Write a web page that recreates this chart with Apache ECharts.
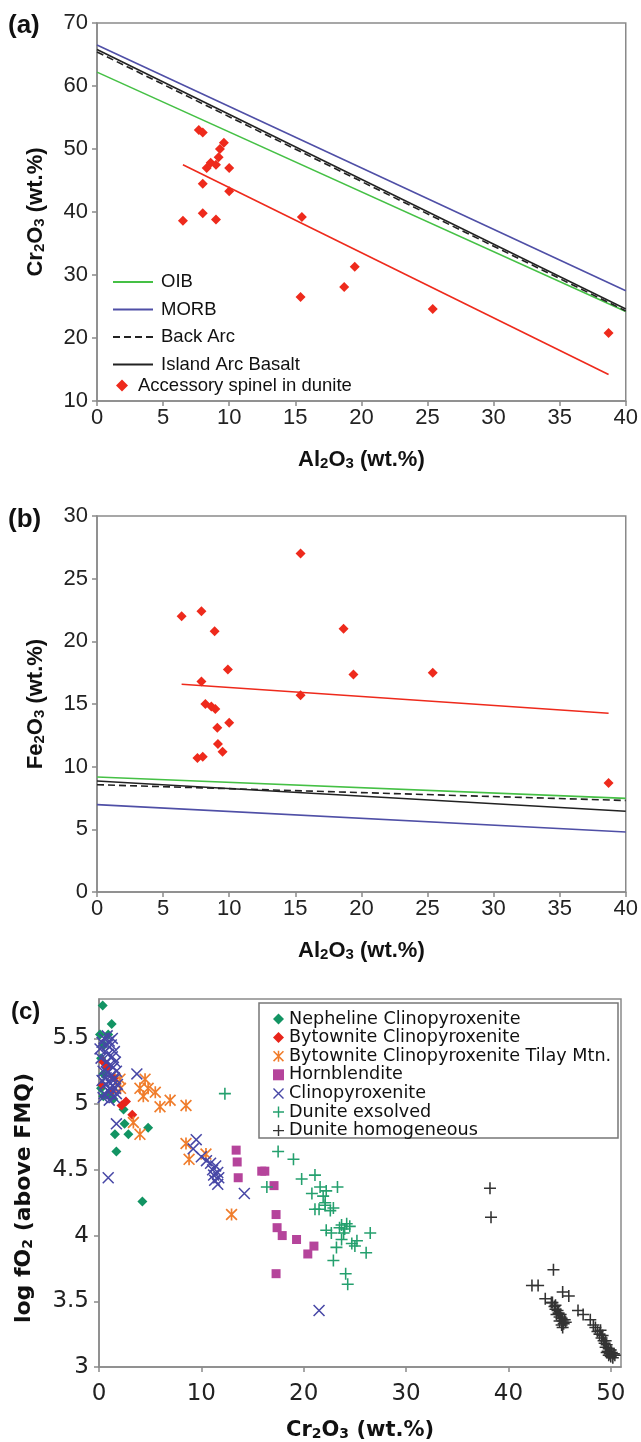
<!DOCTYPE html>
<html><head><meta charset="utf-8">
<script src="https://cdn.jsdelivr.net/npm/echarts@6/dist/echarts.min.js"></script>
<style>html,body{margin:0;padding:0;background:#fff}#c{width:641px;height:1442px}</style>
</head><body><div id="c"></div>
<script>
// ---------- Panel (a): Cr2O3 vs Al2O3 ----------
const oibA = [[0, 62.2], [40, 24.2]];
const morbA = [[0, 66.5], [40, 27.5]];
const backArcA = [[0, 65.4], [40, 24.3]];
const iabA = [[0, 65.8], [40, 24.6]];
const spinelFitA = [[6.5, 47.5], [38.7, 14.2]];
const spinelA = [[7.7, 53.0], [8.0, 52.6], [9.6, 51.0], [9.3, 50.0], [9.2, 48.7], [8.6, 47.8], [9.0, 47.5],
  [8.3, 47.0], [10.0, 47.0], [8.0, 44.5], [10.0, 43.3], [6.5, 38.6], [8.0, 39.8], [9.0, 38.8],
  [15.5, 39.2], [15.4, 26.5], [18.7, 28.1], [19.5, 31.3], [25.4, 24.6], [38.7, 20.8]];

// ---------- Panel (b): Fe2O3 vs Al2O3 ----------
const oibB = [[0, 9.18], [40, 7.47]];
const morbB = [[0, 6.97], [40, 4.79]];
const backArcB = [[0, 8.56], [40, 7.3]];
const iabB = [[0, 8.86], [40, 6.44]];
const spinelFitB = [[6.4, 16.57], [38.7, 14.26]];
const spinelB = [[6.4, 22.0], [7.9, 22.4], [8.9, 20.8], [9.9, 17.75], [15.4, 27.0], [18.65, 21.0],
  [19.4, 17.35], [25.4, 17.5], [7.9, 16.8], [15.4, 15.7], [8.2, 15.0], [8.65, 14.8], [8.95, 14.6],
  [9.1, 13.1], [10.0, 13.5], [9.15, 11.8], [9.5, 11.2], [7.6, 10.7], [8.0, 10.8], [38.7, 8.7]];

// ---------- Panel (c): log fO2 vs Cr2O3 ----------
const nephelineC = [[0.36, 5.75], [1.24, 5.61], [0.1, 5.53], [0.9, 5.53], [0.5, 5.45], [0.2, 5.35], [0.42, 5.23],
  [0.2, 5.12], [0.42, 5.06], [1.4, 5.04], [1.0, 5.08], [2.4, 4.96], [2.5, 4.85], [1.56, 4.77], [2.87, 4.77],
  [4.8, 4.82], [1.7, 4.64], [4.24, 4.26]];
const bytowniteC = [[0.42, 5.32], [0.3, 5.15], [0.8, 5.28], [1.5, 5.2], [1.2, 5.1], [2.2, 4.99], [2.64, 5.02], [3.25, 4.92]];
const tilayC = [[4.5, 5.19], [4.0, 5.12], [4.8, 5.12], [4.33, 5.06], [5.5, 5.09], [5.96, 4.98], [6.95, 5.03],
  [8.5, 4.99], [3.36, 4.86], [4.0, 4.77], [2.05, 5.19], [2.1, 5.12], [8.5, 4.70], [8.8, 4.58], [10.45, 4.62], [12.95, 4.16]];
const hornblenditeC = [[13.4, 4.65], [13.5, 4.56], [13.6, 4.44], [15.9, 4.49], [16.2, 4.49], [17.1, 4.38], [17.3, 4.16],
  [17.4, 4.06], [17.9, 4.0], [19.3, 3.97], [20.4, 3.86], [21.0, 3.92], [17.3, 3.71]];
const clinoC = [[0.1, 5.42], [0.3, 5.47], [0.5, 5.50], [0.8, 5.52], [1.0, 5.48], [1.2, 5.45], [0.6, 5.40], [0.9, 5.38],
  [1.3, 5.36], [1.5, 5.40], [0.2, 5.35], [0.7, 5.32], [1.1, 5.30], [1.4, 5.28], [1.6, 5.32], [0.4, 5.25], [0.8, 5.24],
  [1.2, 5.22], [1.5, 5.20], [1.7, 5.25], [0.3, 5.18], [0.6, 5.15], [1.0, 5.17], [1.3, 5.14], [1.6, 5.12], [0.9, 5.10],
  [1.2, 5.08], [0.5, 5.08], [1.5, 5.05], [1.0, 5.03], [0.7, 5.20], [1.1, 5.12], [1.4, 5.18], [0.8, 5.45], [1.3, 5.50],
  [1.8, 5.15], [0.4, 5.05], [1.7, 5.08], [3.7, 5.23], [1.7, 4.85], [0.9, 4.44], [9.5, 4.73], [9.2, 4.66], [10.0, 4.60],
  [10.5, 4.57], [10.9, 4.55], [11.4, 4.53], [11.1, 4.50], [11.6, 4.48], [11.2, 4.46], [11.7, 4.44], [11.3, 4.42],
  [11.6, 4.39], [14.2, 4.32], [21.5, 3.43]];
const duniteExC = [[12.3, 5.08], [17.5, 4.64], [19.0, 4.58], [19.8, 4.43], [21.1, 4.46], [16.4, 4.37], [20.8, 4.32],
  [21.6, 4.37], [22.2, 4.34], [23.3, 4.37], [21.1, 4.20], [21.5, 4.20], [22.1, 4.23], [22.6, 4.19], [22.9, 4.21],
  [22.1, 4.25], [22.2, 4.04], [22.7, 4.02], [23.7, 4.08], [24.2, 4.09], [24.5, 4.07], [23.9, 4.02], [23.7, 3.97],
  [23.2, 3.91], [24.7, 3.94], [25.2, 3.96], [25.0, 3.92], [26.1, 3.87], [26.5, 4.02], [22.9, 3.81], [24.1, 3.71],
  [24.3, 3.63], [21.9, 4.30], [24.0, 4.05], [23.5, 4.06]];
const duniteHoC = [[38.2, 4.36], [38.3, 4.14], [44.4, 3.74], [42.3, 3.62], [42.9, 3.62], [45.3, 3.57], [45.9, 3.54],
  [43.6, 3.52], [44.2, 3.49], [44.3, 3.49], [44.5, 3.46], [44.6, 3.44], [44.8, 3.43], [44.7, 3.40], [44.9, 3.41],
  [45.0, 3.38], [45.1, 3.40], [45.2, 3.37], [45.0, 3.35], [45.3, 3.35], [45.4, 3.33], [45.2, 3.32], [45.5, 3.36],
  [45.6, 3.34], [44.6, 3.47], [45.3, 3.30], [46.8, 3.43], [47.3, 3.40], [48.0, 3.36], [48.3, 3.32], [48.5, 3.30],
  [48.7, 3.27], [48.9, 3.25], [49.0, 3.28], [49.1, 3.22], [49.3, 3.20], [49.2, 3.24], [49.4, 3.18], [49.5, 3.15],
  [49.6, 3.17], [49.7, 3.12], [49.8, 3.14], [49.9, 3.10], [50.0, 3.08], [50.1, 3.11], [50.2, 3.07], [49.8, 3.09],
  [50.3, 3.10], [49.6, 3.11], [50.0, 3.13], [50.4, 3.09], [49.5, 3.20]];

const ticksXC = [0, 10, 20, 30, 40, 50];
const ticksYC = [3, 3.5, 4, 4.5, 5, 5.5];

// ---------- styles ----------
const AX = '#8a8a8a';
const FA = 'Liberation Sans, Arial, sans-serif';
const FC = 'DejaVu Sans, sans-serif';
const C_OIB = '#45c045', C_MORB = '#4f4fa6', C_RED = '#ee2a1c';
const C_NEPH = '#129463', C_BYT = '#e8241a', C_TIL = '#f07d2c', C_HBL = '#b5449b', C_CPX = '#4747a6', C_DEX = '#24a06e', C_DHO = '#333333';

const PLUS = 'path://M0,4.35L10,4.35L10,5.65L0,5.65Z M4.35,0L5.65,0L5.65,10L4.35,10Z';
const CROSS = 'path://M0,0.9L0.9,0L10,9.1L9.1,10Z M9.1,0L10,0.9L0.9,10L0,9.1Z';
const STAR = 'path://M4.3,0L5.7,0L5.7,10L4.3,10Z M0,1L1,0L10,9L9,10Z M9,0L10,1L1,10L0,9Z';

const sub = { s: { fontSize: 15, fontWeight: 'bold', fontFamily: FA, verticalAlign: 'bottom', padding: [7, 0, 0, 0] } };
const subC = { s: { fontSize: 14, fontWeight: 'bold', verticalAlign: 'bottom', padding: [7, 0, 0, 0], fontFamily: FC } };

function axisBase(font, size, margin) {
  return {
    axisLine: { show: true, onZero: false, lineStyle: { color: AX, width: 1.5 } },
    axisTick: { show: true, length: 5, lineStyle: { color: AX, width: 1.5 } },
    splitLine: { show: false },
    axisLabel: { color: '#222', fontFamily: font, fontSize: size, margin: margin }
  };
}
function mk(base, extra) { return Object.assign({}, base, extra); }

const xAB = (idx, nameStr) => mk(axisBase(FA, 22, 6), {
  type: 'value', gridIndex: idx, min: 0, max: 40, interval: 5,
  name: nameStr, nameLocation: 'middle', nameGap: 48,
  nameTextStyle: { fontFamily: FA, fontSize: 22, fontWeight: 'bold', color: '#111', rich: sub }
});
const yAB = (idx, nameStr, mn, mx, iv) => mk(axisBase(FA, 22, 9), {
  type: 'value', gridIndex: idx, min: mn, max: mx, interval: iv,
  name: nameStr, nameLocation: 'middle', nameGap: 50,
  nameTextStyle: { fontFamily: FA, fontSize: 22, fontWeight: 'bold', color: '#111', rich: sub }
});

function lineS(name, data, color, xi, dashed) {
  return { type: 'line', name, data, xAxisIndex: xi, yAxisIndex: xi, symbol: 'none', silent: true,
    lineStyle: { color, width: 1.6, type: dashed ? [7, 4] : 'solid' }, itemStyle: { color }, z: 2 };
}
function scat(name, data, xi, symbol, size, color) {
  return { type: 'scatter', name, data, xAxisIndex: xi, yAxisIndex: xi, symbol, symbolSize: size,
    itemStyle: { color, opacity: 1 }, z: 3 };
}

const option = {
  animation: false,
  backgroundColor: '#fff',
  grid: [
    { left: 97, top: 23, width: 531, height: 378, show: true, borderColor: AX, borderWidth: 1.5 },
    { left: 97, top: 516, width: 531, height: 376, show: true, borderColor: AX, borderWidth: 1.5 },
    { left: 99, top: 999, width: 522, height: 368, show: true, borderColor: AX, borderWidth: 1.5 }
  ],
  xAxis: [
    xAB(0, 'Al{s|2}O{s|3} (wt.%)'),
    xAB(1, 'Al{s|2}O{s|3} (wt.%)'),
    mk(axisBase(FC, 23, 16), {
      type: 'value', gridIndex: 2, min: 0, max: 51, interval: 10,
      axisTick: { show: true, length: 5, lineStyle: { color: AX, width: 1.5 }, customValues: ticksXC },
      axisLabel: { color: '#222', fontFamily: FC, fontSize: 23, margin: 16, customValues: ticksXC },
      name: 'Cr{s|2}O{s|3} (wt.%)', nameLocation: 'middle', nameGap: 53,
      nameTextStyle: { fontFamily: FC, fontSize: 21, fontWeight: 'bold', color: '#111', rich: subC }
    })
  ],
  yAxis: [
    yAB(0, 'Cr{s|2}O{s|3} (wt.%)', 10, 70, 10),
    yAB(1, 'Fe{s|2}O{s|3} (wt.%)', 0, 30, 5),
    mk(axisBase(FC, 23, 10), {
      type: 'value', gridIndex: 2, min: 3, max: 5.8, interval: 0.5,
      axisTick: { show: true, length: 5, lineStyle: { color: AX, width: 1.5 }, customValues: ticksYC },
      axisLabel: { color: '#222', fontFamily: FC, fontSize: 23, margin: 10, customValues: ticksYC },
      name: 'log fO{s|2} (above FMQ)', nameLocation: 'middle', nameGap: 64,
      nameTextStyle: { fontFamily: FC, fontSize: 22, fontWeight: 'bold', color: '#111', rich: subC, padding: [0, 30, 0, 0] }
    })
  ],
  legend: [
    { orient: 'vertical', left: 107, top: 267.5, itemWidth: 40, itemHeight: 10, itemGap: 8.5,
      itemStyle: { opacity: 0 },
      textStyle: { fontFamily: FA, fontSize: 18.5, color: '#111', padding: [0, 0, 0, 3] }, selectedMode: false,
      data: ['OIB', 'MORB', 'Back Arc', 'Island Arc Basalt'] },
    { orient: 'vertical', left: 111, top: 371, itemWidth: 12, itemHeight: 12, itemGap: 5,
      textStyle: { fontFamily: FA, fontSize: 18.5, color: '#111', padding: [0, 0, 0, 5] }, selectedMode: false,
      data: ['Accessory spinel in dunite'] },
    { orient: 'vertical', left: 268, top: 1005, itemWidth: 11, itemHeight: 11, itemGap: 0.6,
      textStyle: { fontFamily: FC, fontSize: 17.6, color: '#111' }, selectedMode: false,
      data: ['Nepheline Clinopyroxenite', 'Bytownite Clinopyroxenite', 'Bytownite Clinopyroxenite Tilay Mtn.',
        'Hornblendite', 'Clinopyroxenite', 'Dunite exsolved', 'Dunite homogeneous'] }
  ],
  graphic: [
    { type: 'text', left: 8, top: 13, style: { text: '(a)', fontFamily: FA, fontSize: 26, fontWeight: 'bold', fill: '#111' } },
    { type: 'text', left: 8, top: 507, style: { text: '(b)', fontFamily: FA, fontSize: 26, fontWeight: 'bold', fill: '#111' } },
    { type: 'text', left: 11, top: 1000, style: { text: '(c)', fontFamily: FA, fontSize: 24, fontWeight: 'bold', fill: '#111' } },
    { type: 'rect', shape: { x: 259, y: 1003, width: 359, height: 135 }, style: { fill: '#fff', stroke: '#777', lineWidth: 1.5 }, z: 1 }
  ],
  series: [
    lineS('OIB', oibA, C_OIB, 0, false),
    lineS('MORB', morbA, C_MORB, 0, false),
    lineS('Back Arc', backArcA, '#222', 0, true),
    lineS('Island Arc Basalt', iabA, '#222', 0, false),
    lineS('spinel fit a', spinelFitA, C_RED, 0, false),
    scat('Accessory spinel in dunite', spinelA, 0, 'diamond', 10, C_RED),

    lineS('OIB', oibB, C_OIB, 1, false),
    lineS('MORB', morbB, C_MORB, 1, false),
    lineS('Back Arc', backArcB, '#222', 1, true),
    lineS('Island Arc Basalt', iabB, '#222', 1, false),
    lineS('spinel fit b', spinelFitB, C_RED, 1, false),
    scat('Accessory spinel in dunite', spinelB, 1, 'diamond', 10, C_RED),

    scat('Nepheline Clinopyroxenite', nephelineC, 2, 'diamond', 10, C_NEPH),
    scat('Bytownite Clinopyroxenite', bytowniteC, 2, 'diamond', 10, C_BYT),
    scat('Bytownite Clinopyroxenite Tilay Mtn.', tilayC, 2, STAR, 12, C_TIL),
    scat('Hornblendite', hornblenditeC, 2, 'rect', 9, C_HBL),
    scat('Clinopyroxenite', clinoC, 2, CROSS, 12, C_CPX),
    scat('Dunite exsolved', duniteExC, 2, PLUS, 12, C_DEX),
    scat('Dunite homogeneous', duniteHoC, 2, PLUS, 12, C_DHO)
  ]
};

const chart = echarts.init(document.getElementById('c'), null, { renderer: 'canvas', width: 641, height: 1442 });
chart.setOption(option);
</script>
</body></html>
